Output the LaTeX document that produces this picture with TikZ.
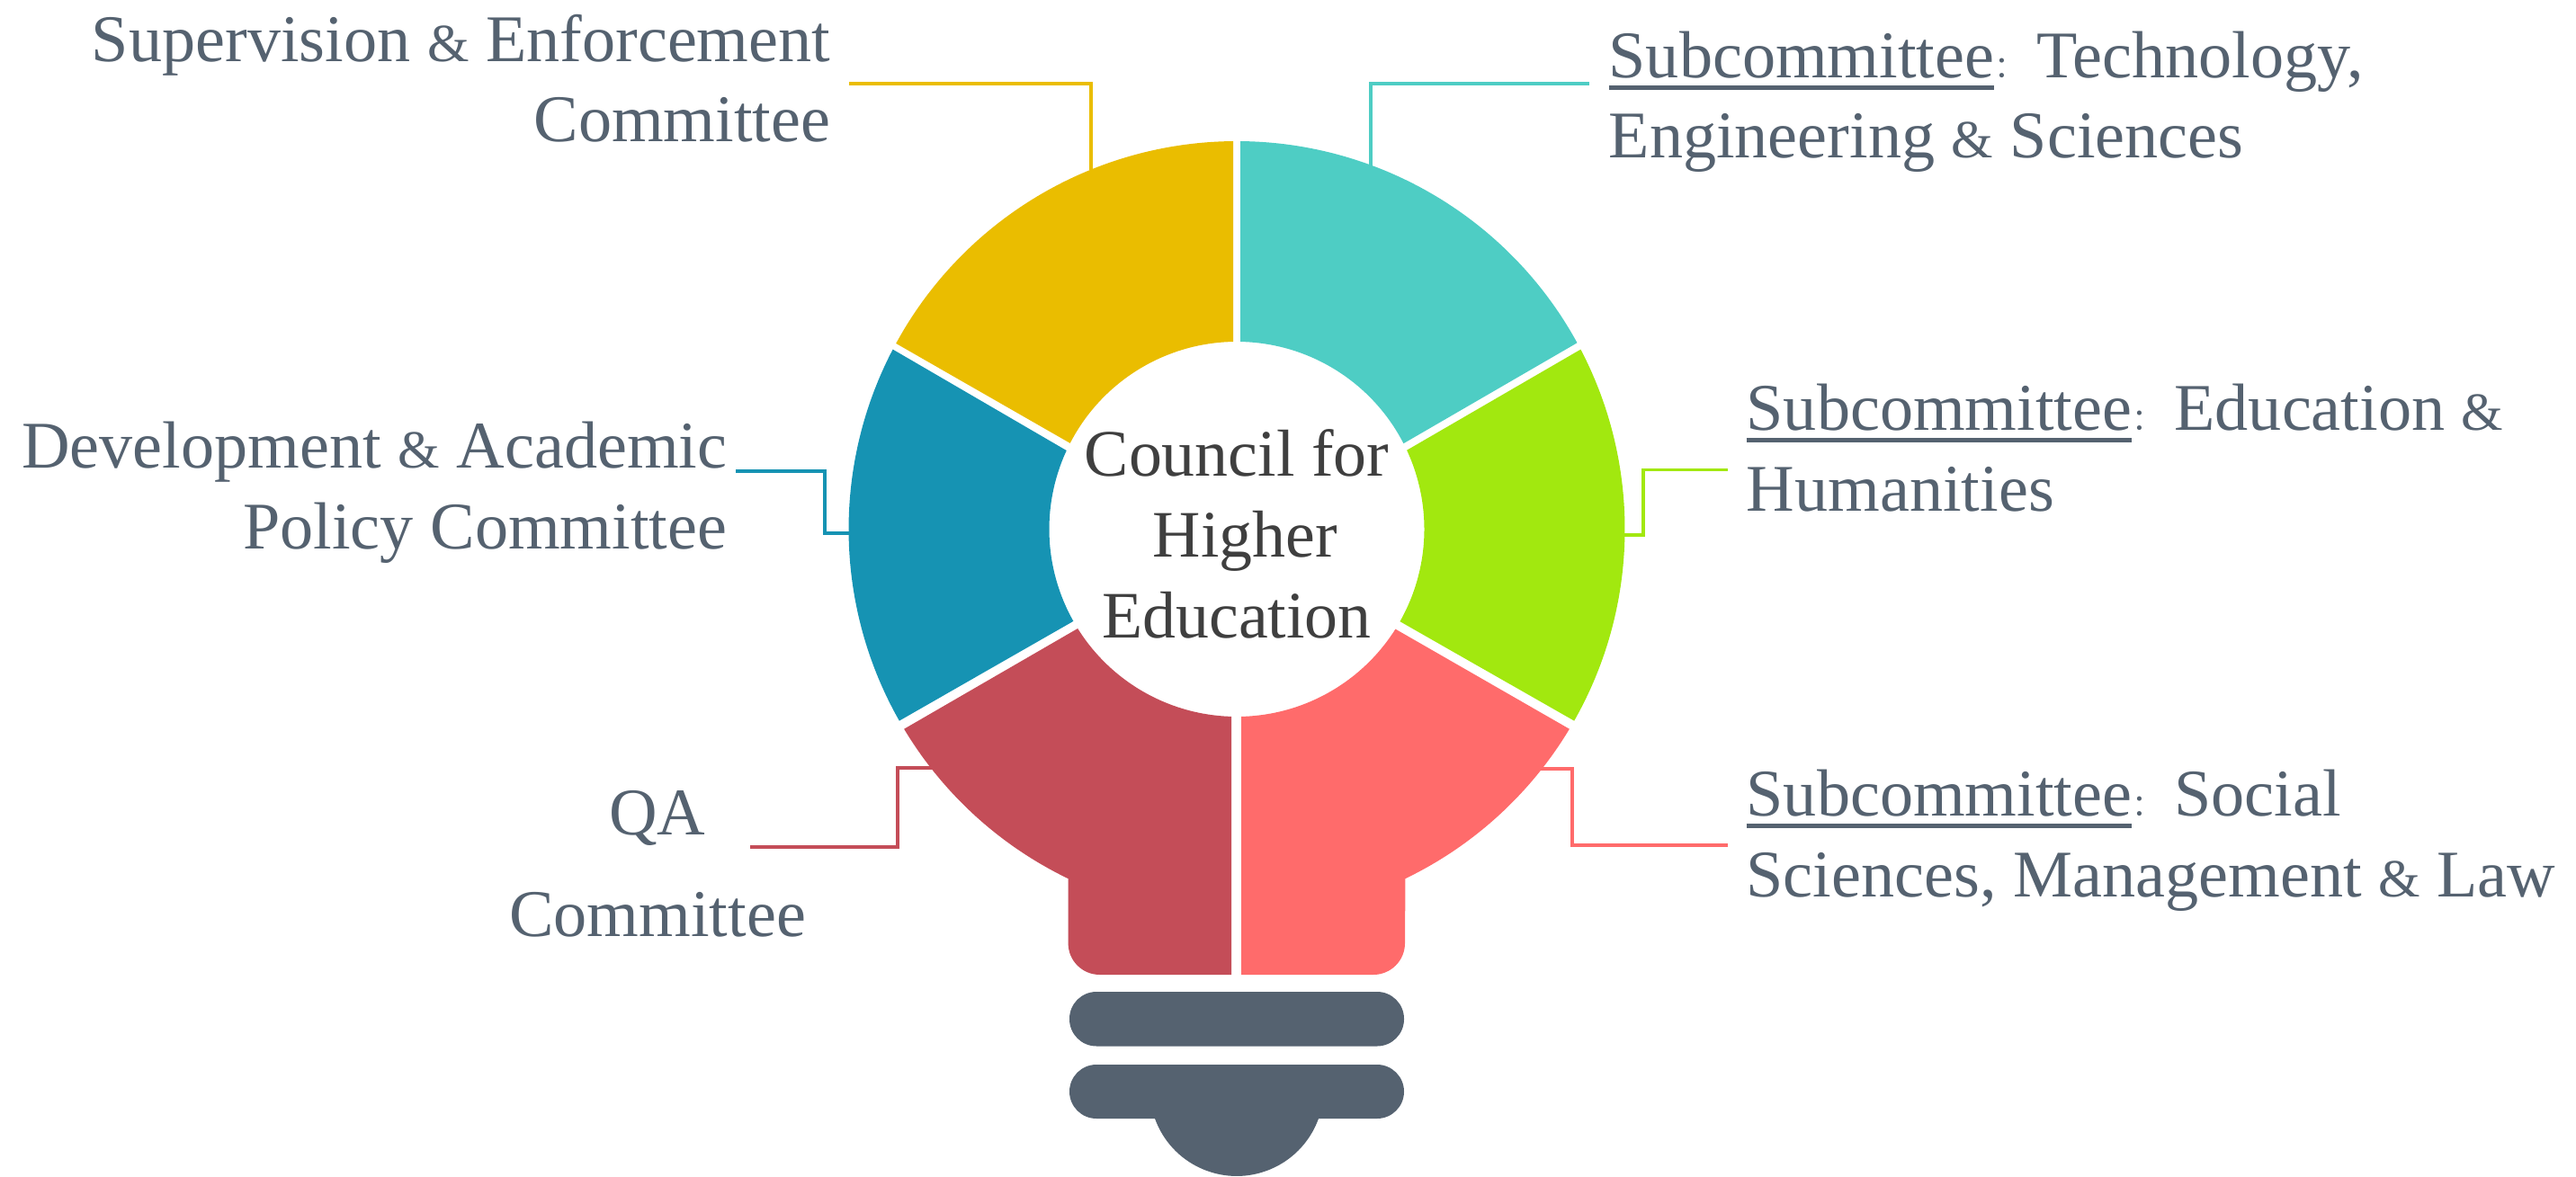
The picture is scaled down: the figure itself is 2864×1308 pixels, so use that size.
\documentclass[tikz,border=0pt]{standalone}
\usepackage{fontspec}
\setmainfont{Liberation Serif}
\newfontfamily\cjk{Noto Sans CJK SC}
\usetikzlibrary{calc}
\definecolor{cyellow}{HTML}{EABD00}
\definecolor{cteal}{HTML}{4ECDC4}
\definecolor{cgreen}{HTML}{A2E80F}
\definecolor{cblue}{HTML}{1693B3}
\definecolor{cred}{HTML}{C44D58}
\definecolor{ccoral}{HTML}{FF6B6B}
\definecolor{cslate}{HTML}{556270}
\definecolor{cdark}{HTML}{3F3F3F}
\newcommand{\subc}{\leavevmode\setbox0\hbox{Subcommittee}\rlap{\rule[-3.8pt]{\wd0}{1.42pt}}\box0\makebox[13.4pt][l]{\fontsize{9.6pt}{10pt}\cjk ：}}
\newcommand{\smallamp}{{\fontsize{17pt}{17pt}\selectfont\&}}
\newcommand{\ringseg}[5]{\fill[#1] ($(c)+(#2:431.5)$) arc[start angle=#2,end angle=#3,radius=431.5] -- ($(c)+(#4:208.5)$) arc[start angle=#4,end angle=#5,radius=208.5] -- cycle;}
\tikzset{
  lbl/.style={inner sep=0pt,text=cslate,font=\fontsize{21.1pt}{25.46pt}\selectfont},
  lblL/.style={lbl,anchor=base west,align=left},
  lblR/.style={lbl,anchor=base east,align=right},
  conn/.style={line width=1.1pt,miter limit=10},
}
\begin{document}
\begin{tikzpicture}[x=0.01cm,y=0.01cm]
\useasboundingbox (0,0) rectangle (2864,1308);
\coordinate (c) at (1375,719.5);
% connector ends
\coordinate (ye1) at (1213,1119); \coordinate (ye2) at (944,1215);
\coordinate (te1) at (1524,1124); \coordinate (te2) at (1767,1215);
\coordinate (gr1) at (1800,713); \coordinate (gr2) at (1921,785.5);
\coordinate (bl1) at (945,715); \coordinate (bl2) at (818,784);
\coordinate (re1) at (1040,454); \coordinate (re2) at (834,366);
\coordinate (co1) at (1710,453); \coordinate (co2) at (1921,368);
\draw[conn,cyellow] (ye1) |- (ye2);
\draw[conn,cteal] (te1) |- (te2);
\draw[conn,cgreen] (gr1) -- (1827,713) |- (gr2);
\draw[conn,cblue] (bl1) -- (917,715) |- (bl2);
\draw[conn,cred] (re1) -- (998,454) |- (re2);
\draw[conn,ccoral] (co1) -- (1748,453) |- (co2);
% ring
\ringseg{cyellow}{90.53}{151.4}{152.7}{91.1}
\ringseg{cteal}{89.47}{28.7}{27.2}{88.9}
\ringseg{cblue}{152.4}{209.6}{209.4}{155.2}
\ringseg{cgreen}{27.6}{-29.6}{-29.5}{24.9}
\fill[cred] ($(c)+(211:431.5)$) arc[start angle=211,end angle=244.25,radius=431.5] -- (1187.6,259) arc[start angle=180,end angle=270,radius=35] -- (1369,224) -- ($(c)+(268.4:208.5)$) arc[start angle=268.4,end angle=212,radius=208.5] -- cycle;
\fill[ccoral] ($(c)+(-31:431.5)$) arc[start angle=-31,end angle=-64.25,radius=431.5] -- (1562,259) arc[start angle=0,end angle=-90,radius=35] -- (1380,224) -- ($(c)+(-88.6:208.5)$) arc[start angle=-88.6,end angle=-32.2,radius=208.5] -- cycle;
% base
\fill[cslate,rounded corners=0.3cm] (1189,144.5) rectangle (1561,205);
\fill[cslate,rounded corners=0.3cm] (1189,64) rectangle (1561,124);
\fill[cslate] (1284,70) -- (1284,64) arc[start angle=199.8,end angle=340.2,radius=96.7] -- (1466,70) -- cycle;
% text
\node[lblR] (supervision) at (924,1150.3) {Supervision \smallamp{} Enforcement\\Committee};
\node[lblL] (technology) at (1788,1132) {\subc Technology,\\Engineering \smallamp{} Sciences};
\node[lblR] (development) at (809,698) {Development \smallamp{} Academic\\Policy Committee};
\node[lblL] (education) at (1941,739.5) {\subc Education \smallamp\\Humanities};
\node[lblL] (social) at (1941,310.5) {\subc Social\\Sciences, Management \smallamp{} Law};
\node[lbl,anchor=base,align=center] (qa) at (731,266.3) {QA\\[6.6pt]Committee};
\node[lbl,anchor=base,align=center,text=cdark,font=\fontsize{21pt}{25.46pt}\selectfont] (council) at (1375,599) {Council for\\\hspace*{.25em}Higher\\Education};
\end{tikzpicture}
\end{document}
